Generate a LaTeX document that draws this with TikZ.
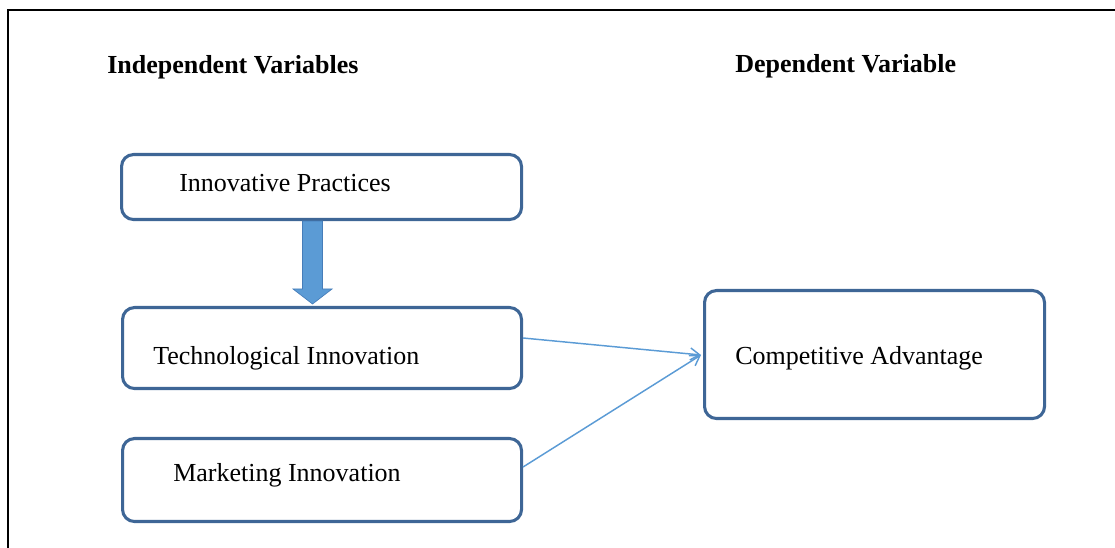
\documentclass[tikz,border=0pt]{standalone}
\usepackage{fontspec}
\setmainfont{Liberation Serif}
\usetikzlibrary{arrows.meta}
\definecolor{boxline}{RGB}{62,102,150}
\definecolor{arrowblue}{RGB}{91,155,213}
\definecolor{arrowedge}{RGB}{70,125,185}
\begin{document}
\begin{tikzpicture}[x=0.75pt,y=-0.75pt,
  varbox/.style={draw=boxline,line width=2.3pt,rounded corners=9pt,fill=white,
    inner sep=0pt,anchor=north west},
  boxtext/.style={anchor=base west,inner sep=0pt,font=\fontsize{19.5}{23}\selectfont},
  headtext/.style={anchor=base west,inner sep=0pt,font=\fontsize{19.5}{23}\selectfont\bfseries},
  blockarrow/.style={fill=arrowblue,draw=arrowedge,line width=0.5pt},
  link/.style={draw=arrowblue,line width=1.1pt,-{Straight Barb[length=7pt,width=9pt]}}]
\useasboundingbox (0,0) rectangle (1115,548);
% page frame (top and left edges)
\draw[line width=1.1pt] (8,548) -- (8,10) -- (1115,10);

% headings
\node[headtext] (hind) at (107,74) {Independent Variables};
\node[headtext] (hdep) at (735,73) {Dependent Variable};

% variable boxes
\node[varbox,minimum width=400*0.75pt,minimum height=65*0.75pt] (ip) at (120,153) {};
\node[varbox,minimum width=399*0.75pt,minimum height=81*0.75pt] (ti) at (121,306) {};
\node[varbox,minimum width=399*0.75pt,minimum height=83*0.75pt] (mi) at (121,437) {};
\node[varbox,minimum width=340*0.75pt,minimum height=128*0.75pt] (ca) at (703,289) {};

% box labels
\node[boxtext] (tip) at (179,192) {Innovative Practices};
\node[boxtext] (tti) at (153,365) {Technological Innovation};
\node[boxtext] (tmi) at (173,482) {Marketing Innovation};
\node[boxtext] (tca) at (735,365) {Competitive Advantage};

% block arrow from Innovative Practices down to Technological Innovation
\coordinate (btop) at ([xshift=-9*0.75pt]ip.south);
\coordinate (btip) at (btop |- ti.north);
\draw[blockarrow]
  ([xshift=-10*0.75pt]btop) -- ([xshift=-10*0.75pt,yshift=17*0.75pt]btop |- btip)
  -- ([xshift=-19.5*0.75pt,yshift=17*0.75pt]btip) -- ([yshift=2*0.75pt]btip)
  -- ([xshift=19.5*0.75pt,yshift=17*0.75pt]btip)
  -- ([xshift=10*0.75pt,yshift=17*0.75pt]btop |- btip) -- ([xshift=10*0.75pt]btop) -- cycle;

% relations to the dependent variable
\coordinate (catip) at ([xshift=-2*0.75pt,yshift=-66*0.75pt]ca.north west);
\draw[link] ([yshift=-32*0.75pt]ti.north east) -- (catip);
\draw[link] ([yshift=-30*0.75pt]mi.north east) -- (catip);
\end{tikzpicture}
\end{document}
